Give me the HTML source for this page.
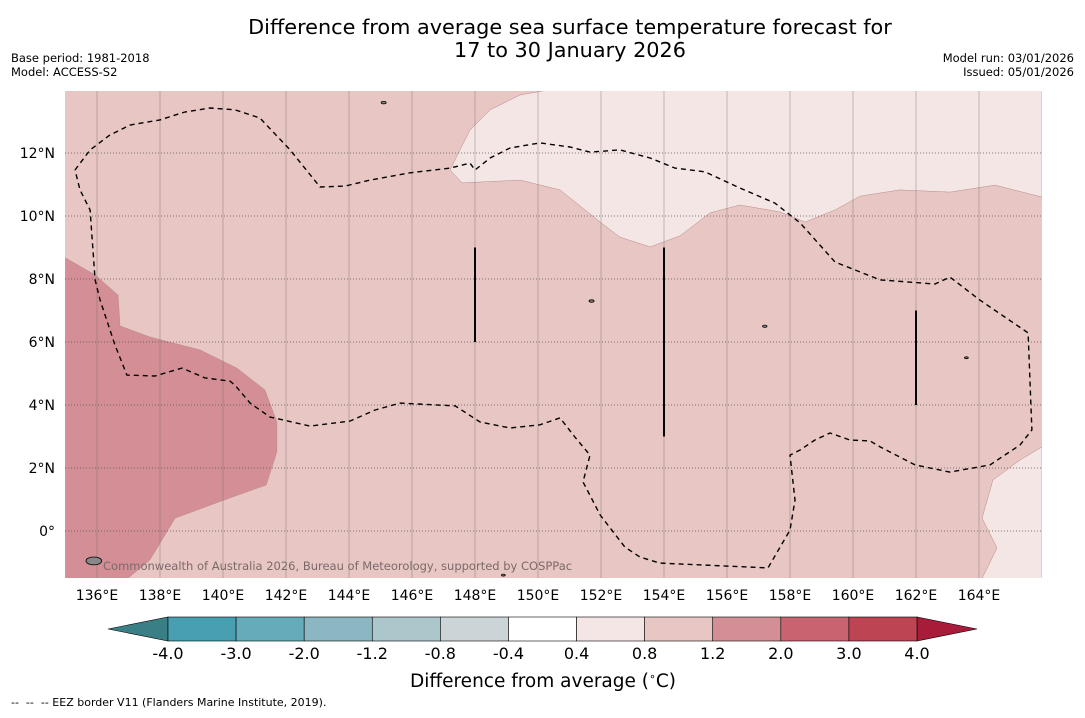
<!DOCTYPE html>
<html><head><meta charset="utf-8"><style>
body{margin:0;background:#fff;width:1085px;height:713px;overflow:hidden;font-family:"Liberation Sans","DejaVu Sans",sans-serif}
svg text{font-family:"DejaVu Sans","Liberation Sans",sans-serif}
</style></head><body>
<svg id="c" width="1085" height="713" xmlns="http://www.w3.org/2000/svg">
<text x="570" y="34" font-size="20.8" text-anchor="middle">Difference from average sea surface temperature forecast for</text>
<text x="570" y="57" font-size="20.8" text-anchor="middle">17 to 30 January 2026</text>
<text x="11" y="62" font-size="11.5">Base period: 1981-2018</text>
<text x="11" y="76" font-size="11.5">Model: ACCESS-S2</text>
<text x="1074" y="62" font-size="11.5" text-anchor="end">Model run: 03/01/2026</text>
<text x="1074" y="76" font-size="11.5" text-anchor="end">Issued: 05/01/2026</text>
<g id="map"></g>
<g id="cb"></g>
<text x="543" y="687" font-size="18.5" text-anchor="middle">Difference from average (<tspan font-size="11" dy="-7">∘</tspan><tspan dy="7">C)</tspan></text>
<text x="11" y="706" font-size="11" xml:space="preserve">--  --  -- EEZ border V11 (Flanders Marine Institute, 2019).</text>
</svg>
<script>
const lonTicks=[136,138,140,142,144,146,148,150,152,154,156,158,160,162,164];
const latTicks=[0,2,4,6,8,10,12];
const cbLevels=[-4.0,-3.0,-2.0,-1.2,-0.8,-0.4,0.4,0.8,1.2,2.0,3.0,4.0];
const cbColors=["#479fb1","#66abb9","#8ab7c2","#abc7cc","#cbd4d6","#ffffff","#f4e6e4","#e8c6c3","#d48f96","#c8646f","#bd4453"];
const lowColor="#3b7f86",highColor="#a81c3a";
const regionDark=[[135,8.67],[135.94,8.13],[136.67,7.49],[136.73,6.51],[137.68,6.16],[139.27,5.75],[140.44,5.17],[141.33,4.48],[141.71,3.46],[141.71,2.51],[141.37,1.46],[140.22,1.05],[138.48,0.41],[137.68,-0.92],[136.98,-1.5],[135,-1.5]];
const regionLightTop=[[150.32,14],[149.43,13.84],[148.48,13.37],[147.84,12.73],[147.52,12.1],[147.21,11.46],[147.59,11.05],[149.43,11.14],[150.7,10.83],[151.97,9.81],[152.6,9.33],[153.56,9.02],[154.51,9.37],[155.46,10.1],[156.41,10.35],[157.68,10.13],[158.48,9.81],[159.43,10.19],[160.22,10.63],[161.49,10.83],[163.08,10.76],[164.51,10.98],[166,10.6],[166,14]];
const regionLightBR=[[166,2.67],[165.3,2.25],[164.44,1.62],[164.1,0.41],[164.57,-0.54],[164.1,-1.5],[166,-1.5]];
const eez=[[135.3,11.46],[135.78,12.1],[136.41,12.57],[137.05,12.89],[138,13.05],[138.79,13.3],[139.59,13.43],[140.38,13.37],[141.17,13.11],[142.13,12.1],[143.08,10.92],[143.87,10.95],[144.67,11.14],[145.94,11.37],[147.21,11.52],[147.84,11.68],[148,11.46],[148.48,11.84],[149.11,12.16],[150.06,12.32],[151.02,12.19],[151.65,12.03],[152.6,12.1],[153.56,11.84],[154.35,11.52],[155.3,11.4],[156.41,10.89],[157.52,10.41],[158.32,9.78],[159.43,8.54],[160.86,7.97],[162.6,7.84],[163.08,8.06],[164.03,7.33],[165.56,6.29],[165.68,3.21],[165.3,2.73],[164.35,2.1],[163.08,1.87],[161.97,2.1],[160.86,2.67],[160.54,2.86],[159.9,2.89],[159.27,3.11],[158.79,2.89],[158.32,2.57],[158,2.41],[158.16,0.98],[158,0.03],[157.3,-1.17],[153.87,-1.02],[153.24,-0.83],[152.76,-0.51],[151.97,0.51],[151.43,1.56],[151.65,2.41],[151.17,2.98],[150.7,3.59],[150.06,3.37],[149.11,3.27],[148.16,3.46],[147.37,3.97],[145.62,4.06],[144.83,3.84],[144.03,3.49],[142.76,3.33],[141.49,3.62],[140.86,4.06],[140.38,4.63],[140.22,4.76],[139.43,4.86],[138.7,5.17],[137.84,4.92],[136.95,4.95],[136.57,5.9],[136.1,7.33],[135.94,7.97],[135.78,10.19],[135.46,10.83],[135.3,11.46]];
const segs=[[148,6,9],[154,3,9],[162,4,7]];
const islands=[[135.9,-0.95,0.25],[145.1,13.6,0.08],[163.6,5.5,0.06],[157.2,6.5,0.07],[151.7,7.3,0.08],[148.9,-1.4,0.06]];

const NS="http://www.w3.org/2000/svg";
const X0=65.5,Y0=531,K=31.5,L0=135;
const sx=lon=>X0+(lon-L0)*K, sy=lat=>Y0-lat*K;
const mapL=65,mapR=1042,mapT=91,mapB=578;
function mk(tag,attrs,parent){const e=document.createElementNS(NS,tag);for(const k in attrs)e.setAttribute(k,attrs[k]);parent.appendChild(e);return e;}
const map=document.getElementById('map');
const defs=mk('defs',{},map);
const cp=mk('clipPath',{id:'clip'},defs);
mk('rect',{x:mapL,y:mapT,width:mapR-mapL,height:mapB-mapT},cp);
const bg=mk('rect',{x:mapL,y:mapT,width:mapR-mapL,height:mapB-mapT,fill:'#e8c6c3'},map);


const g=mk('g',{'clip-path':'url(#clip)'},map);
const pts=a=>a.map(p=>sx(p[0]).toFixed(1)+','+sy(p[1]).toFixed(1)).join(' ');
[[regionDark,'#d48f96','region-1p2-to-2p0'],[regionLightTop,'#f4e6e4','region-0p4-to-0p8-north'],[regionLightBR,'#f4e6e4','region-0p4-to-0p8-east']].forEach(r=>{
 const p=mk('polygon',{points:pts(r[0]),fill:r[1],stroke:'#b88a8a','stroke-width':0.5},g);
 
 
});
lonTicks.forEach(l=>{
 const ln=mk('line',{x1:sx(l),x2:sx(l),y1:mapT,y2:mapB,stroke:'#666','stroke-opacity':0.45,'stroke-width':0.8},g);
 
 
 const t=mk('text',{x:sx(l),y:mapB+22,'font-size':14,'text-anchor':'middle'},map);
 t.textContent=l+'°E';
 
 
});
latTicks.forEach(l=>{
 const ln=mk('line',{x1:mapL,x2:mapR,y1:sy(l),y2:sy(l),stroke:'#555','stroke-width':0.8,'stroke-dasharray':'1,2'},g);
 
 
 const t=mk('text',{x:mapL-10,y:sy(l)+5,'font-size':14,'text-anchor':'end'},map);
 t.textContent=l===0?'0°':l+'°N';
 
 
});
const e=mk('polyline',{points:pts(eez),fill:'none',stroke:'#000','stroke-width':1.4,'stroke-dasharray':'5,4'},g);


segs.forEach(s=>{
 const l=mk('line',{x1:sx(s[0]),x2:sx(s[0]),y1:sy(s[2]),y2:sy(s[1]),stroke:'#000','stroke-width':2},g);
 
 
});
islands.forEach(s=>{
 const c=mk('ellipse',{cx:sx(s[0]),cy:sy(s[1]),rx:s[2]*K,ry:s[2]*K*0.5,fill:'#888',stroke:'#000','stroke-width':0.8},g);
 
 
});
const cr=mk('text',{x:103,y:570,'font-size':11.5,fill:'#7a6a6a'},map);
cr.textContent='Commonwealth of Australia 2026, Bureau of Meteorology, supported by COSPPac';



const cb=document.getElementById('cb');
const cL=168,cR=917,cT=617,cBt=641,n=cbColors.length,w=(cR-cL)/n;
const lt=mk('polygon',{points:`108,629 ${cL},${cT} ${cL},${cBt}`,fill:lowColor,stroke:'#000','stroke-width':0.6},cb);


const ht=mk('polygon',{points:`977,629 ${cR},${cT} ${cR},${cBt}`,fill:highColor,stroke:'#000','stroke-width':0.6},cb);


cbColors.forEach((c,i)=>{
 const r=mk('rect',{x:cL+i*w,y:cT,width:w,height:cBt-cT,fill:c,stroke:'#000','stroke-width':0.6},cb);
 
 
});
cbLevels.forEach((v,i)=>{
 const t=mk('text',{x:cL+i*w,y:659,'font-size':16,'text-anchor':'middle'},cb);
 t.textContent=v.toFixed(1);
 
 
});
</script>
</body></html>
